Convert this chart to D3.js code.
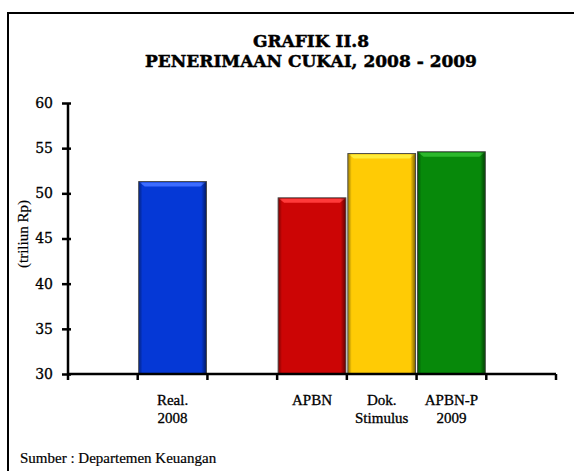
<!DOCTYPE html>
<html>
<head>
<meta charset="utf-8">
<script src="https://cdn.jsdelivr.net/npm/d3@7"></script>
<style>
  body { margin: 0; background: #fff; }
  svg text { font-family: "DejaVu Serif", "Liberation Serif", serif; fill: #000; }
</style>
</head>
<body>
<div id="chart"></div>
<script>
// data
const categories = ["", "Real.|2008", "", "APBN", "Dok.|Stimulus", "APBN-P|2009", ""];
const barCats = ["Real.|2008", "APBN", "Dok.|Stimulus", "APBN-P|2009"];
const barValues = [51.3, 49.5, 54.4, 54.6];
const barColors = ["#0538d6", "#cc0505", "#ffcb05", "#07890a"];
const barLight = ["#3d6cff", "#ff3a3a", "#ffec3a", "#2cb82c"];
const yTicks = [30, 35, 40, 45, 50, 55, 60];

const width = 574, height = 471;
const margin = { top: 103, left: 68, right: 18, bottom: 97 };

var svg = d3.select("#chart").append("svg")
    .attr("width", width)
    .attr("height", height);

// frame
svg.append("rect")
    .attr("x", 8).attr("y", 13)
    .attr("width", 640).attr("height", 600)
    .attr("fill", "none")
    .attr("stroke", "#000")
    .attr("stroke-width", 2);

// title
svg.append("text").attr("x", 311).attr("y", 47)
    .attr("text-anchor", "middle")
    .style("font-weight", "bold").style("font-size", "17px")
    .style("stroke", "#000").style("stroke-width", 0.5)
    .text("GRAFIK II.8");
svg.append("text").attr("x", 311).attr("y", 67)
    .attr("text-anchor", "middle")
    .style("font-weight", "bold").style("font-size", "17px")
    .style("stroke", "#000").style("stroke-width", 0.5)
    .text("PENERIMAAN CUKAI, 2008 - 2009");

var x = d3.scaleBand()
    .domain(categories.map((d, i) => i))
    .range([margin.left, width - margin.right])
    .padding(0);

var y = d3.scaleLinear()
    .domain([30, 60])
    .range([height - margin.bottom, margin.top]);

// gradients for the bevel look
var defs = svg.append("defs");
var edge = defs.append("linearGradient").attr("id", "edgeShade")
    .attr("x1", 0).attr("x2", 1).attr("y1", 0).attr("y2", 0);
edge.append("stop").attr("offset", "0").attr("stop-color", "#000").attr("stop-opacity", 0.35);
edge.append("stop").attr("offset", "0.05").attr("stop-color", "#000").attr("stop-opacity", 0);
edge.append("stop").attr("offset", "0.93").attr("stop-color", "#000").attr("stop-opacity", 0);
edge.append("stop").attr("offset", "1").attr("stop-color", "#000").attr("stop-opacity", 0.5);

var bars = svg.append("g");
barCats.forEach(function(c, i) {
    var idx = categories.indexOf(c);
    var x0 = x(idx) + 1, w = x.bandwidth() - 2;
    var top = y(barValues[i]), h = y(30) - top;
    bars.append("rect")
        .attr("x", x0).attr("y", top)
        .attr("width", w).attr("height", h)
        .attr("fill", barColors[i])
        .attr("stroke", "#444").attr("stroke-width", 1);
    bars.append("path")
        .attr("d", `M${x0 + 1},${top + 1} L${x0 + w - 1},${top + 1} L${x0 + w - 6},${top + 5} L${x0 + 6},${top + 5} Z`)
        .attr("fill", barLight[i]);
    bars.append("rect")
        .attr("x", x0 + 0.5).attr("y", top + 0.5)
        .attr("width", w - 1).attr("height", h - 1)
        .attr("fill", "url(#edgeShade)");
});

// y axis
var yAxis = svg.append("g")
    .attr("transform", `translate(${margin.left},0)`)
    .call(d3.axisLeft(y).tickValues(yTicks).tickSize(6).tickPadding(9));
yAxis.select(".domain").attr("stroke-width", 2.5).attr("d", `M0,${y(60)}V${y(30)}`);
yAxis.selectAll(".tick line").attr("stroke-width", 2.5).attr("x1", 3);
yAxis.selectAll(".tick text").style("font-size", "14px")
    .style("font-family", "'DejaVu Serif', serif")
    .style("stroke", "#000").style("stroke-width", 0.3);

// x axis
var xAxis = svg.append("g")
    .attr("transform", `translate(0,${y(30)})`);
xAxis.append("line")
    .attr("x1", margin.left).attr("x2", width - margin.right)
    .attr("stroke", "#000").attr("stroke-width", 2.5);
xAxis.selectAll(".xtick")
    .data(categories.map((d, i) => i).concat([categories.length]))
    .enter().append("line")
    .attr("x1", d => d < categories.length ? x(d) : x(d - 1) + x.bandwidth())
    .attr("x2", d => d < categories.length ? x(d) : x(d - 1) + x.bandwidth())
    .attr("y1", 0).attr("y2", 6)
    .attr("stroke", "#000").attr("stroke-width", 2.5);

xAxis.selectAll(".xlab")
    .data(categories.map((d, i) => ({ d: d, i: i })).filter(o => o.d !== ""))
    .enter().append("text")
    .attr("text-anchor", "middle")
    .style("font-size", "15px")
    .style("font-family", "'Liberation Serif', serif")
    .style("stroke", "#000").style("stroke-width", 0.3)
    .each(function(o) {
        var t = d3.select(this);
        o.d.split("|").forEach(function(line, k) {
            t.append("tspan")
                .attr("x", x(o.i) + x.bandwidth() / 2)
                .attr("y", 31 + k * 18)
                .text(line);
        });
    });

// y label
svg.append("text")
    .attr("transform", `translate(28,234) rotate(-90)`)
    .attr("text-anchor", "middle")
    .style("font-size", "15px")
    .style("font-family", "'Liberation Serif', serif")
    .style("stroke", "#000").style("stroke-width", 0.2)
    .text("(triliun Rp)");

// source
svg.append("text").attr("x", 20).attr("y", 463)
    .style("font-size", "15px")
    .style("font-family", "'Liberation Serif', serif")
    .style("stroke", "#000").style("stroke-width", 0.2)
    .text("Sumber : Departemen Keuangan");
</script>
</body>
</html>
